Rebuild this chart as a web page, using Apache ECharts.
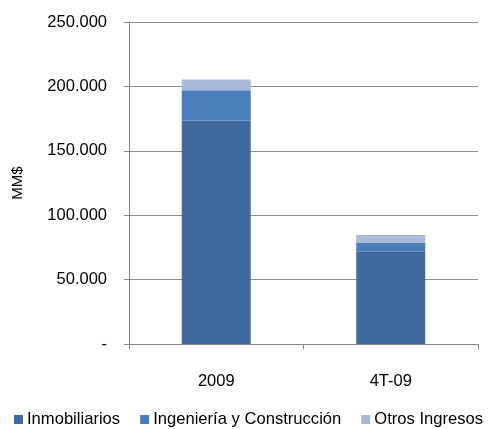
<!DOCTYPE html>
<html>
<head>
<meta charset="utf-8">
<script src="https://cdn.jsdelivr.net/npm/echarts@6/dist/echarts.min.js"></script>
<style>
html,body{margin:0;padding:0;background:#fff;}
#chart{width:488px;height:429px;}
</style>
</head>
<body>
<div id="chart"></div>
<script>
const categories = ['2009', '4T-09'];
const seriesNames = ['Inmobiliarios', 'Ingeniería y Construcción', 'Otros Ingresos'];
const inmobiliarios = [173500, 71700];
const ingenieria = [23600, 6700];
const otros = [8300, 6200];
const yAxisName = 'MM$';

const colors = ['#416A9C', '#4A7EBB', '#A9B9D9'];
const fontFam = '"Liberation Sans", Arial, sans-serif';

function fmt(v) {
  if (v === 0) return '-';
  return String(v).replace(/\B(?=(\d{3})+(?!\d))/g, '.');
}

const chart = echarts.init(document.getElementById('chart'), null, {renderer: 'canvas'});
const data = [inmobiliarios, ingenieria, otros];
chart.setOption({
  animation: false,
  backgroundColor: '#fff',
  textStyle: {fontFamily: fontFam},
  grid: {left: 129, right: 10, top: 22, bottom: 85, containLabel: false},
  legend: {
    left: 14, top: 411, width: 474, padding: 0,
    itemWidth: 9, itemHeight: 9, itemGap: 20,
    icon: 'rect',
    textStyle: {fontSize: 16.6, color: '#000', fontFamily: fontFam, padding: [0, 0, 0, -1]},
    data: seriesNames
  },
  xAxis: {
    type: 'category',
    data: categories,
    boundaryGap: true,
    axisLine: {lineStyle: {color: '#868686', width: 1}},
    axisTick: {show: true, length: 5, lineStyle: {color: '#868686'}},
    axisLabel: {color: '#000', fontSize: 16.5, margin: 29, fontFamily: fontFam}
  },
  yAxis: {
    type: 'value',
    min: 0, max: 250000, interval: 50000,
    name: yAxisName,
    nameLocation: 'middle',
    nameGap: 104,
    nameTextStyle: {color: '#000', fontSize: 15, fontFamily: fontFam},
    axisLine: {show: true, lineStyle: {color: '#868686', width: 1}},
    axisTick: {show: true, length: 5, lineStyle: {color: '#868686'}},
    axisLabel: {color: '#000', fontSize: 16.5, margin: 22, formatter: fmt, fontFamily: fontFam},
    splitLine: {show: true, lineStyle: {color: '#8f8f8f', width: 1}}
  },
  series: seriesNames.map((n, i) => ({
    name: n,
    type: 'bar',
    stack: 'total',
    barWidth: 69,
    itemStyle: {color: colors[i]},
    data: data[i]
  }))
});
</script>
</body>
</html>
